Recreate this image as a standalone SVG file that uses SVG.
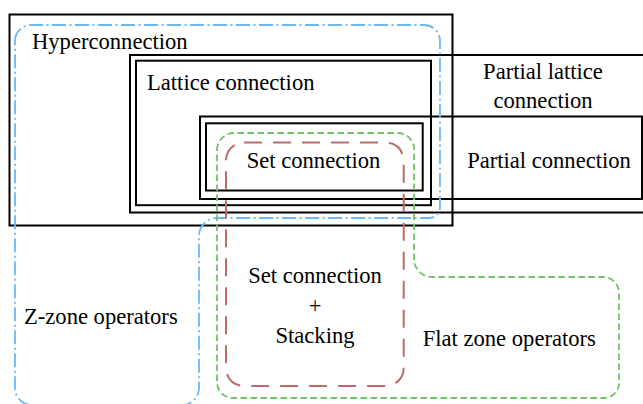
<svg xmlns="http://www.w3.org/2000/svg" width="643" height="404" viewBox="0 0 643 404">
<style>
.box{fill:none;stroke:#000;stroke-width:2}
.t{font-size:22.6px;fill:#000}
.m{text-anchor:middle}
.blue{fill:none;stroke:#6bb8f5;stroke-width:1.8;stroke-dasharray:14 3.5 2 3.5}
.green{fill:none;stroke:#72c267;stroke-width:1.8;stroke-dasharray:6.5 3.5}
.red{fill:none;stroke:#bd6b6b;stroke-width:2;stroke-dasharray:18 11}
</style>
<rect width="643" height="404" fill="#fff"/>
<g font-family="'Liberation Serif', Tinos, 'DejaVu Serif', serif">
<g id="hyperconnection">
<rect class="box" x="9.5" y="14.5" width="443" height="211"/>
<text class="t" x="32" y="48.5">Hyperconnection</text>
</g>
<g id="partial-lattice-connection">
<rect class="box" x="130" y="55" width="520" height="157.5"/>
<text class="t m" x="543" y="79.3">Partial lattice</text>
<text class="t m" x="543" y="108.3">connection</text>
</g>
<g id="lattice-connection">
<rect class="box" x="136" y="60.7" width="295" height="144.5"/>
<text class="t" x="147" y="90">Lattice connection</text>
</g>
<g id="partial-connection">
<rect class="box" x="200" y="116.5" width="442" height="82.5"/>
<text class="t m" x="549" y="167.7">Partial connection</text>
</g>
<g id="set-connection">
<rect class="box" x="206" y="123.3" width="216.7" height="67.2"/>
<text class="t" x="246.7" y="168.3">Set connection</text>
</g>
<g id="z-zone-operators">
<path class="blue" d="M15,41 A16,16 0 0 1 31,25 H424 A16,16 0 0 1 440,41 V207 A11,11 0 0 1 429,218 H217 A18,18 0 0 0 199,236 V388 A17,17 0 0 1 182,405 H32 A17,17 0 0 1 15,388 Z"/>
<text class="t" x="24" y="324">Z-zone operators</text>
</g>
<g id="flat-zone-operators">
<path class="green" d="M217,150 A17,17 0 0 1 234,133 H398 A16,16 0 0 1 414,149 V259 A18,18 0 0 0 432,277 H603 A16,16 0 0 1 619,293 V383 A15,15 0 0 1 604,398 H233 A16,16 0 0 1 217,382 Z"/>
<text class="t" x="422.7" y="345.7">Flat zone operators</text>
</g>
<g id="set-connection-stacking">
<rect class="red" x="226" y="142.5" width="177.7" height="243.5" rx="18" ry="18"/>
<text class="t m" x="315" y="283.3">Set connection</text>
<text class="t m" x="315" y="312.5">+</text>
<text class="t m" x="315" y="342.5">Stacking</text>
</g>
</g>
</svg>
